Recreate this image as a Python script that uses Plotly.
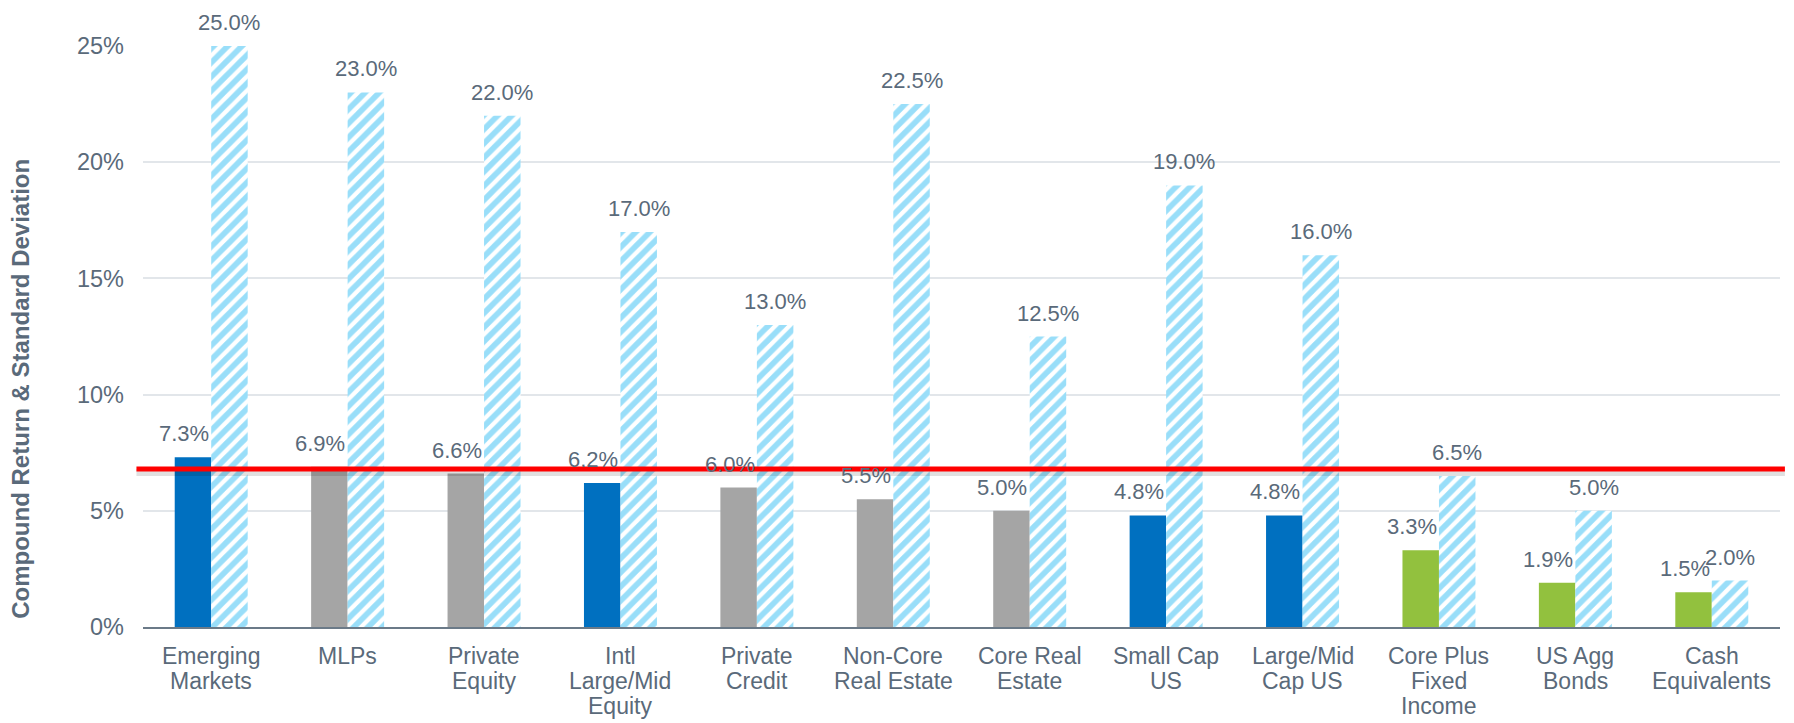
import plotly.graph_objects as go

categories = ["Emerging Markets", "MLPs", "Private Equity", "Intl Large/Mid Equity",
              "Private Credit", "Non-Core Real Estate", "Core Real Estate", "Small Cap US",
              "Large/Mid Cap US", "Core Plus Fixed Income", "US Agg Bonds", "Cash Equivalents"]
category_lines = [["Emerging", "Markets"], ["MLPs"], ["Private", "Equity"],
                  ["Intl", "Large/Mid", "Equity"], ["Private", "Credit"],
                  ["Non-Core", "Real Estate"], ["Core Real", "Estate"], ["Small Cap", "US"],
                  ["Large/Mid", "Cap US"], ["Core Plus", "Fixed", "Income"],
                  ["US Agg", "Bonds"], ["Cash", "Equivalents"]]
compound_return = [7.3, 6.9, 6.6, 6.2, 6.0, 5.5, 5.0, 4.8, 4.8, 3.3, 1.9, 1.5]
standard_deviation = [25.0, 23.0, 22.0, 17.0, 13.0, 22.5, 12.5, 19.0, 16.0, 6.5, 5.0, 2.0]
asset_group = ["equity", "real", "real", "equity", "real", "real", "real", "equity",
               "equity", "fixed", "fixed", "fixed"]
target_return = 6.8
y_ticks = [0, 5, 10, 15, 20, 25]
y_tick_labels = ["0%", "5%", "10%", "15%", "20%", "25%"]

group_colors = {"equity": "#0070C0", "real": "#A5A5A5", "fixed": "#92C13E"}
hatch_color = "#34BEF3"
text_color = "#5A6A7A"
font_family = "Liberation Sans, Arial, sans-serif"

fig = go.Figure()
fig.add_bar(x=categories, y=compound_return, name="Compound Return",
            marker=dict(color=[group_colors[g] for g in asset_group], line=dict(width=0)))
fig.add_bar(x=categories, y=standard_deviation, name="Standard Deviation",
            marker=dict(color="white", line=dict(width=0),
                        pattern=dict(shape="/", fgcolor=hatch_color, bgcolor="white",
                                     size=10, solidity=0.58)))

annotations = []
half_bar = 18.25
for cat, r, s in zip(categories, compound_return, standard_deviation):
    annotations.append(dict(x=cat, y=r, xref="x", yref="y", text=f"{r:.1f}%", showarrow=False,
                            xshift=-half_bar - 9, yshift=9, yanchor="bottom",
                            font=dict(size=22, color=text_color, family=font_family)))
    annotations.append(dict(x=cat, y=s, xref="x", yref="y", text=f"{s:.1f}%", showarrow=False,
                            xshift=half_bar, yshift=9, yanchor="bottom",
                            font=dict(size=22, color=text_color, family=font_family)))
for cat, lines in zip(categories, category_lines):
    for i, line in enumerate(lines):
        annotations.append(dict(x=cat, y=0, xref="x", yref="paper", text=line, showarrow=False,
                                yanchor="top", yshift=-14 - 25 * i,
                                font=dict(size=23, color=text_color, family=font_family)))
annotations.append(dict(x=-0.0745, y=0.41, xref="paper", yref="paper",
                        text="<b>Compound Return & Standard Deviation</b>", textangle=-90,
                        showarrow=False, xanchor="center", yanchor="middle",
                        font=dict(size=24, color=text_color, family=font_family)))

shapes = [
    dict(type="line", xref="paper", yref="y", x0=-0.004, x1=1.003,
         y0=target_return - 0.15, y1=target_return - 0.15,
         line=dict(color="rgba(0,0,0,0.12)", width=7)),
    dict(type="line", xref="paper", yref="y", x0=-0.004, x1=1.003,
         y0=target_return, y1=target_return, line=dict(color="#FF0000", width=5)),
]

fig.update_layout(
    width=1794, height=723,
    margin=dict(l=143, r=14, t=46, b=96),
    paper_bgcolor="white", plot_bgcolor="white",
    barmode="group", bargap=0.465, bargroupgap=0,
    showlegend=False,
    font=dict(family=font_family, color=text_color),
    annotations=annotations, shapes=shapes,
    xaxis=dict(showticklabels=False, showline=True, linecolor="#6B7A88", linewidth=2,
               ticks="", showgrid=False),
    yaxis=dict(range=[0, 25], tickmode="array", tickvals=y_ticks, ticktext=y_tick_labels,
               showgrid=True, gridcolor="#E2E6EA", gridwidth=1.5, zeroline=False, ticks="",
               ticklabelstandoff=18, tickfont=dict(size=23.5, color=text_color,
                                                   family=font_family)),
)

fig.write_html("out.html")
